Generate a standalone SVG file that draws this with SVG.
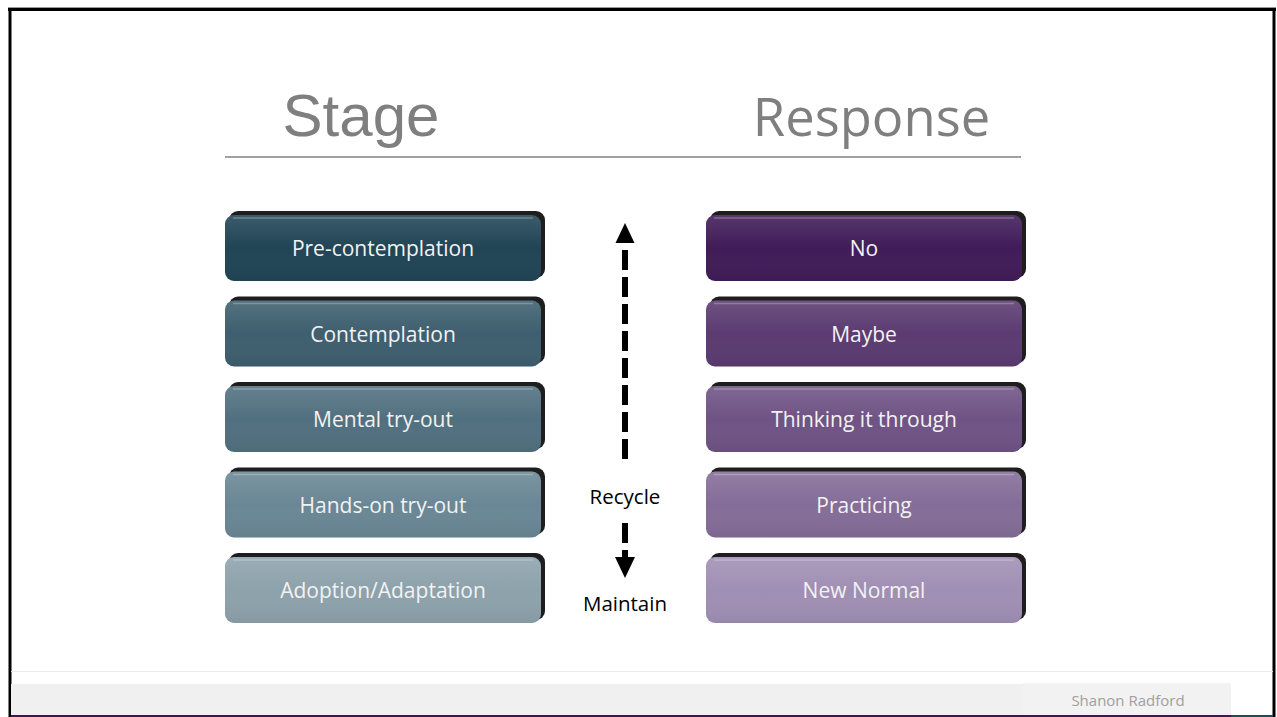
<svg xmlns="http://www.w3.org/2000/svg" width="1277" height="717" viewBox="0 0 1277 717">
<defs>
<linearGradient id="sheen" x1="0" y1="0" x2="0" y2="1">
<stop offset="0" stop-color="#ffffff" stop-opacity="0.12"/>
<stop offset="0.5" stop-color="#ffffff" stop-opacity="0"/>
<stop offset="1" stop-color="#000000" stop-opacity="0.06"/>
</linearGradient>
</defs>
<style>
.shadow{fill:#1e1e1e}
.hl{fill:none;stroke:#ffffff;stroke-opacity:0.25;stroke-width:1.5}
.lbl{font-family:"Open Sans","Noto Sans",sans-serif;font-size:21px;fill:#f2f2f2;text-anchor:middle}
.side{font-family:"Open Sans","Noto Sans",sans-serif;font-size:20.5px;fill:#000;text-anchor:middle}
.dash{stroke:#000;stroke-width:6;stroke-dasharray:20 7;fill:none}
</style>
<rect width="1277" height="717" fill="#ffffff"/>
<!-- frame -->
<line x1="8" y1="7.5" x2="1276" y2="7.5" stroke="#999" stroke-width="1"/>
<line x1="8" y1="9.5" x2="1276" y2="9.5" stroke="#000" stroke-width="3"/>
<line x1="10" y1="8" x2="10" y2="717" stroke="#000" stroke-width="3"/>
<line x1="1274" y1="8" x2="1274" y2="717" stroke="#000" stroke-width="3"/>
<!-- footer -->
<line x1="11" y1="671.5" x2="1273" y2="671.5" stroke="#ececec" stroke-width="1"/>
<rect x="11" y="684" width="1220" height="31" fill="#f0f0f0"/>
<rect x="1023" y="683" width="208" height="32" fill="#f2f2f2"/>
<text x="1128" y="706" font-family="'Open Sans','Liberation Sans Narrow',sans-serif" font-size="15" fill="#a0a0a0" text-anchor="middle">Shanon Radford</text>
<line x1="11" y1="716" x2="1231" y2="716" stroke="#3a1a50" stroke-width="2"/>
<line x1="1231" y1="716" x2="1273" y2="716" stroke="#1f4a5a" stroke-width="2"/>
<!-- headings -->
<g id="heading-stage"><text x="361" y="136" font-family="'Liberation Sans',Arial,sans-serif" font-size="60" fill="#7f7f7f" text-anchor="middle">Stage</text></g>
<g id="heading-response"><text x="871.5" y="136" font-family="'Open Sans','Noto Sans',sans-serif" font-size="52.5" fill="#7f7f7f" text-anchor="middle">Response</text></g>
<line x1="225" y1="157" x2="1021" y2="157" stroke="#808080" stroke-width="1.5"/>
<!-- stage nodes -->
<g id="stage-1" transform="translate(225,212)"><rect class="shadow" x="4" y="-1" width="316" height="67" rx="9"/><rect x="0" y="3" width="316" height="66" rx="9" fill="#214556"/><rect x="0" y="3" width="316" height="66" rx="9" fill="url(#sheen)"/><line class="hl" x1="8" y1="6" x2="308" y2="6"/><text class="lbl" x="158" y="44">Pre-contemplation</text></g>
<g id="stage-2" transform="translate(225,297.5)"><rect class="shadow" x="4" y="-1" width="316" height="67" rx="9"/><rect x="0" y="3" width="316" height="66" rx="9" fill="#3e5f6f"/><rect x="0" y="3" width="316" height="66" rx="9" fill="url(#sheen)"/><line class="hl" x1="8" y1="6" x2="308" y2="6"/><text class="lbl" x="158" y="44">Contemplation</text></g>
<g id="stage-3" transform="translate(225,383)"><rect class="shadow" x="4" y="-1" width="316" height="67" rx="9"/><rect x="0" y="3" width="316" height="66" rx="9" fill="#51707f"/><rect x="0" y="3" width="316" height="66" rx="9" fill="url(#sheen)"/><line class="hl" x1="8" y1="6" x2="308" y2="6"/><text class="lbl" x="158" y="44">Mental try-out</text></g>
<g id="stage-4" transform="translate(225,468.5)"><rect class="shadow" x="4" y="-1" width="316" height="67" rx="9"/><rect x="0" y="3" width="316" height="66" rx="9" fill="#6a8795"/><rect x="0" y="3" width="316" height="66" rx="9" fill="url(#sheen)"/><line class="hl" x1="8" y1="6" x2="308" y2="6"/><text class="lbl" x="158" y="44">Hands-on try-out</text></g>
<g id="stage-5" transform="translate(225,554)"><rect class="shadow" x="4" y="-1" width="316" height="67" rx="9"/><rect x="0" y="3" width="316" height="66" rx="9" fill="#8ea2ac"/><rect x="0" y="3" width="316" height="66" rx="9" fill="url(#sheen)"/><line class="hl" x1="8" y1="6" x2="308" y2="6"/><text class="lbl" x="158" y="44">Adoption/Adaptation</text></g>
<!-- response nodes -->
<g id="resp-1" transform="translate(706,212)"><rect class="shadow" x="4" y="-1" width="316" height="67" rx="9"/><rect x="0" y="3" width="316" height="66" rx="9" fill="#401c58"/><rect x="0" y="3" width="316" height="66" rx="9" fill="url(#sheen)"/><line class="hl" x1="8" y1="6" x2="308" y2="6"/><text class="lbl" x="158" y="44">No</text></g>
<g id="resp-2" transform="translate(706,297.5)"><rect class="shadow" x="4" y="-1" width="316" height="67" rx="9"/><rect x="0" y="3" width="316" height="66" rx="9" fill="#5b3b71"/><rect x="0" y="3" width="316" height="66" rx="9" fill="url(#sheen)"/><line class="hl" x1="8" y1="6" x2="308" y2="6"/><text class="lbl" x="158" y="44">Maybe</text></g>
<g id="resp-3" transform="translate(706,383)"><rect class="shadow" x="4" y="-1" width="316" height="67" rx="9"/><rect x="0" y="3" width="316" height="66" rx="9" fill="#6f5385"/><rect x="0" y="3" width="316" height="66" rx="9" fill="url(#sheen)"/><line class="hl" x1="8" y1="6" x2="308" y2="6"/><text class="lbl" x="158" y="44">Thinking it through</text></g>
<g id="resp-4" transform="translate(706,468.5)"><rect class="shadow" x="4" y="-1" width="316" height="67" rx="9"/><rect x="0" y="3" width="316" height="66" rx="9" fill="#846d98"/><rect x="0" y="3" width="316" height="66" rx="9" fill="url(#sheen)"/><line class="hl" x1="8" y1="6" x2="308" y2="6"/><text class="lbl" x="158" y="44">Practicing</text></g>
<g id="resp-5" transform="translate(706,554)"><rect class="shadow" x="4" y="-1" width="316" height="67" rx="9"/><rect x="0" y="3" width="316" height="66" rx="9" fill="#a08fb4"/><rect x="0" y="3" width="316" height="66" rx="9" fill="url(#sheen)"/><line class="hl" x1="8" y1="6" x2="308" y2="6"/><text class="lbl" x="158" y="44">New Normal</text></g>
<!-- connectors -->
<g id="connectors">
<path class="dash" d="M625,236 V463" stroke-dashoffset="13"/>
<polygon points="625,223 615.5,243 634.5,243" fill="#000"/>
<path d="M625,523 V543 M625,550 V559" stroke="#000" stroke-width="6" fill="none"/>
<polygon points="625,578 615,557 635,557" fill="#000"/>
</g>
<g id="label-recycle"><text class="side" x="625" y="504">Recycle</text></g>
<g id="label-maintain"><text class="side" x="625" y="611">Maintain</text></g>
</svg>
